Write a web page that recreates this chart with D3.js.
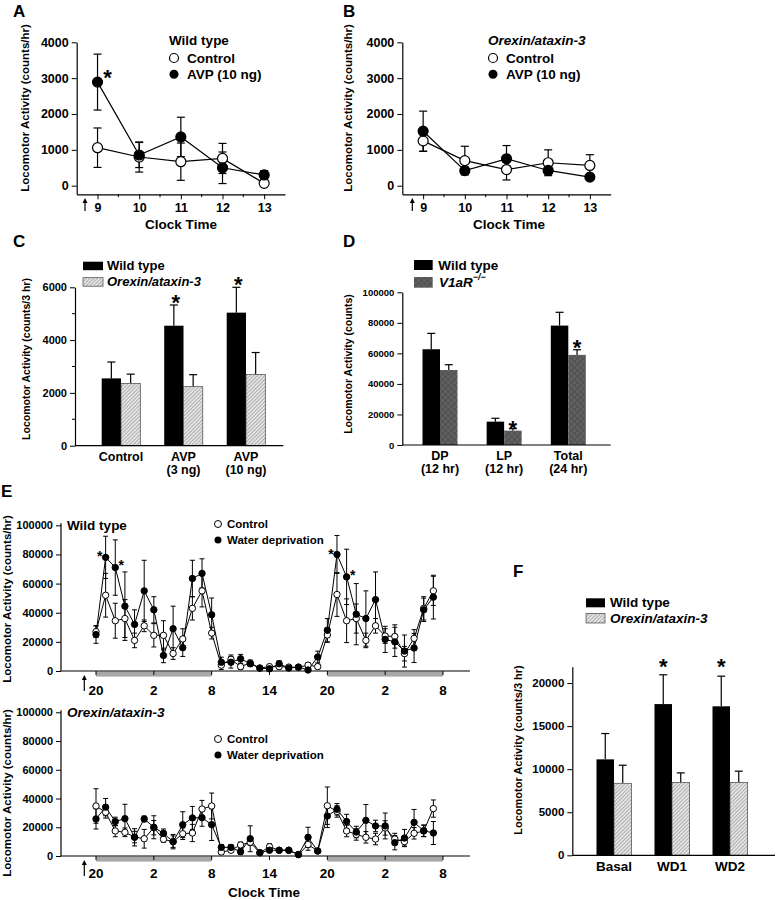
<!DOCTYPE html>
<html><head><meta charset="utf-8">
<script src="https://cdn.jsdelivr.net/npm/d3@7"></script>
<style>body{margin:0;background:#fff;}svg{display:block;}</style>
</head><body>
<svg id="fig" width="776" height="900"></svg>
<script>
// ---------------- DATA ----------------
const hoursA = [9, 10, 11, 12, 13];
const aControl = [1060, 800, 670, 760, 65];
const aControlErr = [550, 420, 520, 420, 60];
const aAVP = [2890, 856, 1360, 500, 300];
const aAVPErr = [780, 350, 550, 440, 120];
const bControl = [1250, 700, 450, 640, 565];
const bControlErr = [290, 400, 290, 360, 300];
const bAVP = [1520, 420, 750, 425, 240];
const bAVPErr = [560, 100, 370, 80, 60];
const abYTicks = [0, 1000, 2000, 3000, 4000];
const abXMinor = [9.5, 10.5, 11.5, 12.5];
const aStars = [{hour: 9, value: 3180}];

const cCategories = [["Control"], ["AVP", "(3 ng)"], ["AVP", "(10 ng)"]];
const cWT = [2550, 4545, 5040];
const cWTErr = [620, 785, 960];
const cOX = [2360, 2235, 2700];
const cOXErr = [350, 455, 830];
const cYTicks = [0, 2000, 4000, 6000];
const cYMinor = [1000, 3000, 5000];
const cStars = [{i: 1, value: 5640}, {i: 2, value: 6350}];

const dCategories = [["DP", "(12 hr)"], ["LP", "(12 hr)"], ["Total", "(24 hr)"]];
const dWT = [62700, 15300, 78200];
const dWTErr = [10400, 2200, 8700];
const dKO = [49100, 9400, 59000];
const dKOErr = [3500, 1300, 3400];
const dYTicks = [0, 20000, 40000, 60000, 80000, 100000];
const dStars = [{i: 1, value: 14900}, {i: 2, value: 67600}];

const eHours = [20,21,22,23,24,25,26,27,28,29,30,31,32,33,34,35,36,37,38,39,40,41,42,43,44,45,46,47,48,49,50,51,52,53,54,55];
const eTickHours = [20, 26, 32, 38, 44, 50, 56];
const eTickLabels = ["20", "2", "8", "14", "20", "2", "8"];
const eDarkPeriods = [[20, 32], [44, 56]];
const eYTicks = [0, 20000, 40000, 60000, 80000, 100000];
const eWTControl = [27000,52000,34500,36000,21000,31000,24500,24500,12000,22000,43000,55000,26000,
  4000,8000,3000,5500,2000,3000,3000,2700,2500,4000,3000,
  24700,52500,34500,36000,21000,31000,24000,23700,11900,22400,43000,55000];
const eWTControlErr = [4000,15000,12000,13000,5000,4000,8000,10000,4000,7000,8000,11000,4000,
  3000,3000,2000,2000,1000,1500,1500,1000,1000,1500,1500,
  5000,15000,15000,10000,5000,5000,5000,8000,5000,6000,8000,10000];
const eWTWater = [25000,78000,71000,44500,32000,55000,42000,10700,29000,16000,63500,67000,38600,
  6000,6000,8400,5000,2000,1500,5000,2000,2700,700,9600,
  28000,80000,64600,39000,36000,49000,21700,20000,13700,15800,42000,50700];
const eWTWaterErr = [6000,14500,19000,23500,10000,21000,9000,5000,15500,6000,12500,10000,11500,
  3500,4000,3000,2000,1000,1500,2000,1000,1000,1000,4000,
  8000,13000,19000,21000,19000,19000,9000,10000,11000,10000,8000,15000];
const eOXControl = [34800,30400,17400,16500,13200,12000,19700,11600,10000,15500,16000,32700,34800,
  2800,4000,7700,9500,2300,6500,4000,4000,1000,8000,3500,
  35000,31000,17400,15000,13000,11800,19500,11800,10000,15800,17400,33000];
const eOXControlErr = [12000,4000,4000,3000,4000,6500,5000,2000,4000,4000,6000,6000,9000,
  1500,1500,2000,2000,1000,2000,1000,1000,1000,4000,1000,
  13000,4000,4000,4000,4000,4000,5000,4000,3000,4000,4000,6000];
const eOXWater = [25800,34000,24000,26000,13000,25800,20000,15800,10000,21800,26500,26700,21800,
  6000,6000,3000,12000,2300,4000,4000,4000,1000,13000,3500,
  27800,32500,24000,16700,24800,20900,20900,9300,12500,23400,17600,16000];
const eOXWaterErr = [7000,6000,3000,10000,6000,2000,8000,3000,5000,9000,8000,6000,11000,
  2000,2000,2000,9000,1000,1500,1000,1000,1000,7000,1000,
  8000,4000,5000,4000,11000,4000,9000,5000,6000,9000,4000,8000];
const eStars = [{hour: 21, value: 81200, side: -1}, {hour: 22, value: 75000, side: 1},
                {hour: 45, value: 83000, side: -1}, {hour: 46, value: 68600, side: 1}];

const fCategories = ["Basal", "WD1", "WD2"];
const fWT = [11140, 17560, 17300];
const fWTErr = [3000, 3400, 3500];
const fOX = [8360, 8470, 8470];
const fOXErr = [2100, 1100, 1300];
const fYTicks = [0, 5000, 10000, 15000, 20000];
const fStars = [{i: 1, value: 22660}, {i: 2, value: 22660}];

// ---------------- HELPERS ----------------
const FONT = '"Liberation Sans", Arial, Helvetica, sans-serif';
const svg = d3.select("#fig");
svg.append("rect").attr("width", 776).attr("height", 900).attr("fill", "#fff");
const defs = svg.append("defs");
const hatch = defs.append("pattern").attr("id", "hatch").attr("patternUnits", "userSpaceOnUse")
  .attr("width", 2.6).attr("height", 2.6).attr("patternTransform", "rotate(45)");
hatch.append("rect").attr("width", 2.6).attr("height", 2.6).attr("fill", "#e6e6e6");
hatch.append("line").attr("x1", 0.5).attr("y1", 0).attr("x2", 0.5).attr("y2", 2.6)
  .attr("stroke", "#a8a8a8").attr("stroke-width", 0.9);
const mottle = defs.append("pattern").attr("id", "mottle").attr("patternUnits", "userSpaceOnUse")
  .attr("width", 6).attr("height", 6);
mottle.append("rect").attr("width", 6).attr("height", 6).attr("fill", "#595959");
[[0,0,"#5f5f5f"],[3,3,"#5f5f5f"],[3,0,"#545454"],[0,3,"#545454"]].forEach(([x,y,c]) =>
  mottle.append("rect").attr("x", x).attr("y", y).attr("width", 3).attr("height", 3).attr("fill", c));

function T(g, x, y, s, o = {}) {
  const t = g.append("text").attr("x", x).attr("y", y).text(s)
    .attr("font-family", FONT).attr("font-size", o.fs || 13)
    .attr("font-weight", o.fw || "bold").attr("text-anchor", o.anchor || "start").attr("fill", "#000");
  if (o.italic) t.attr("font-style", "italic");
  if (o.rotate) t.attr("transform", `rotate(-90,${x},${y})`);
  return t;
}
function star(g, cx, cy, fs) {
  T(g, cx, cy + 0.62 * fs, "*", {fs: fs, anchor: "middle"});
}
function styleAxis(a, fs) {
  a.attr("font-family", FONT);
  a.selectAll("text").attr("font-size", fs).attr("font-weight", "bold").attr("fill", "#000");
  a.selectAll("line").attr("stroke", "#000").attr("stroke-width", 1);
  a.select(".domain").attr("stroke", "#000").attr("stroke-width", 1.2);
}
function yAxis(g, scale, x, ticks, fs) {
  const a = g.append("g").attr("transform", `translate(${x},0)`)
    .call(d3.axisLeft(scale).tickValues(ticks).tickSize(5).tickSizeOuter(0).tickPadding(3).tickFormat(d3.format("d")));
  styleAxis(a, fs);
  return a;
}
function arrow(g, x, yTip, yTail) {
  g.append("line").attr("x1", x).attr("x2", x).attr("y1", yTip + 3).attr("y2", yTail)
    .attr("stroke", "#000").attr("stroke-width", 1.2);
  g.append("path").attr("d", `M${x},${yTip} L${x - 2.5},${yTip + 5} L${x + 2.5},${yTip + 5} Z`).attr("fill", "#000");
}
function timeSeries(g, x, y, hours, series, r, cap, sw) {
  series.forEach(s => {
    g.append("path").datum(hours.map((h, i) => [h, s.vals[i]]))
      .attr("d", d3.line().x(d => x(d[0])).y(d => y(d[1])))
      .attr("fill", "none").attr("stroke", "#000").attr("stroke-width", sw);
  });
  series.forEach(s => {
    const pts = hours.map((h, i) => ({h, v: s.vals[i], e: s.errs[i]}));
    const eg = g.append("g").selectAll("g").data(pts).join("g").attr("stroke", "#000").attr("stroke-width", sw);
    eg.append("line").attr("x1", d => x(d.h)).attr("x2", d => x(d.h))
      .attr("y1", d => y(Math.max(0, d.v - d.e))).attr("y2", d => y(d.v + d.e));
    eg.append("line").attr("x1", d => x(d.h) - cap / 2).attr("x2", d => x(d.h) + cap / 2)
      .attr("y1", d => y(d.v + d.e)).attr("y2", d => y(d.v + d.e));
    eg.append("line").attr("x1", d => x(d.h) - cap / 2).attr("x2", d => x(d.h) + cap / 2)
      .attr("y1", d => y(Math.max(0, d.v - d.e))).attr("y2", d => y(Math.max(0, d.v - d.e)));
  });
  series.forEach(s => {
    g.append("g").selectAll("circle").data(hours.map((h, i) => [h, s.vals[i]])).join("circle")
      .attr("cx", d => x(d[0])).attr("cy", d => y(d[1])).attr("r", r)
      .attr("fill", s.fill).attr("stroke", "#000").attr("stroke-width", sw);
  });
}
function barPairs(g, xc, y, bw, a, aErr, aFill, b, bErr, bFill, bStroke) {
  const rows = a.map((v, i) => ({i, a: v, ae: aErr[i], b: b[i], be: bErr[i]}));
  const eg = g.append("g").attr("stroke", "#000").attr("stroke-width", 1.2);
  rows.forEach(d => {
    [[xc(d.i) - bw / 2, d.a, d.ae], [xc(d.i) + bw / 2, d.b, d.be]].forEach(([cx, v, e]) => {
      eg.append("line").attr("x1", cx).attr("x2", cx).attr("y1", y(v)).attr("y2", y(v + e));
      eg.append("line").attr("x1", cx - 4).attr("x2", cx + 4).attr("y1", y(v + e)).attr("y2", y(v + e));
    });
  });
  g.append("g").selectAll("rect").data(rows).join("rect")
    .attr("x", d => xc(d.i) - bw).attr("width", bw)
    .attr("y", d => y(d.a)).attr("height", d => y(0) - y(d.a)).attr("fill", aFill);
  g.append("g").selectAll("rect").data(rows).join("rect")
    .attr("x", d => xc(d.i)).attr("width", bw)
    .attr("y", d => y(d.b)).attr("height", d => y(0) - y(d.b)).attr("fill", bFill)
    .attr("stroke", bStroke).attr("stroke-width", bStroke === "none" ? 0 : 0.7);
}
function legendBox(g, x, y, w, h, fill, stroke) {
  g.append("rect").attr("x", x).attr("y", y).attr("width", w).attr("height", h)
    .attr("fill", fill).attr("stroke", stroke || "none").attr("stroke-width", 0.7);
}

// ---------------- PANEL A & B ----------------
function panelAB(x0, x1, labelX, letter, letterX, legTitle, legItalic, legX, ctrl, ctrlErr, avp, avpErr, stars, arrowX, clockX) {
  const g = svg.append("g");
  const x = d3.scaleLinear().domain([8.5, 13.5]).range([x0, x1]);
  const y = d3.scaleLinear().domain([-240, 4000]).range([194.3, 42.3]);
  yAxis(g, y, x0, abYTicks, 12.5);
  const xa = g.append("g").attr("transform", `translate(0,${y(-240)})`)
    .call(d3.axisBottom(x).tickValues(hoursA).tickSize(5).tickSizeOuter(0).tickPadding(4).tickFormat(d3.format("d")));
  styleAxis(xa, 12.5);
  g.append("g").selectAll("line").data(abXMinor).join("line")
    .attr("x1", d => x(d)).attr("x2", d => x(d)).attr("y1", y(-240)).attr("y2", y(-240) + 3).attr("stroke", "#000");
  timeSeries(g, x, y, hoursA, [
    {vals: ctrl, errs: ctrlErr, fill: "#fff"},
    {vals: avp, errs: avpErr, fill: "#000"}], 5, 8, 1.2);
  stars.forEach(s => star(g, x(s.hour) + 10, y(s.value), 22));
  arrow(g, arrowX, 198, 211);
  T(g, clockX, 229, "Clock Time", {fs: 13.5, anchor: "middle"});
  T(g, labelX, 108, "Locomotor Activity (counts/hr)", {fs: 11.5, anchor: "middle", rotate: true});
  T(g, letterX, 17, letter, {fs: 17});
  T(g, legX, 45, legTitle, {fs: 13.5, italic: legItalic});
  g.append("circle").attr("cx", legX + 5).attr("cy", 58).attr("r", 4.5).attr("fill", "#fff").attr("stroke", "#000").attr("stroke-width", 1.2);
  g.append("circle").attr("cx", legX + 5).attr("cy", 74.3).attr("r", 4.5).attr("fill", "#000");
  T(g, legX + 18, 62.5, "Control", {fs: 13.5});
  T(g, legX + 18, 79, "AVP (10 ng)", {fs: 13.5});
}
panelAB(76.7, 285, 29, "A", 13, "Wild type", false, 169, aControl, aControlErr, aAVP, aAVPErr, aStars, 85, 181);
panelAB(402.3, 610.7, 352, "B", 343, "Orexin/ataxin-3", true, 488, bControl, bControlErr, bAVP, bAVPErr, [], 412.3, 509);

// ---------------- PANEL C ----------------
(function () {
  const g = svg.append("g");
  const y = d3.scaleLinear().domain([0, 6000]).range([445.7, 287.3]);
  const xc = d3.scaleLinear().domain([0, 2]).range([121, 246]);
  const bw = 19.3;
  barPairs(g, xc, y, bw, cWT, cWTErr, "#000", cOX, cOXErr, "url(#hatch)", "#444");
  yAxis(g, y, 75, cYTicks, 11);
  g.append("g").selectAll("line").data(cYMinor).join("line")
    .attr("x1", 75 - 3).attr("x2", 75).attr("y1", d => y(d)).attr("y2", d => y(d)).attr("stroke", "#000");
  g.append("line").attr("x1", 75).attr("x2", 283.3).attr("y1", y(0)).attr("y2", y(0)).attr("stroke", "#000").attr("stroke-width", 1.2);
  cCategories.forEach((c, i) => c.forEach((s, k) => T(g, xc(i), 460.5 + k * 13.5, s, {fs: 12.5, anchor: "middle"})));
  cStars.forEach(s => star(g, xc(s.i) - bw / 2 + 2, y(s.value), 22));
  T(g, 30, 359, "Locomotor Activity (counts/3 hr)", {fs: 10.5, anchor: "middle", rotate: true});
  T(g, 13, 247, "C", {fs: 17});
  legendBox(g, 83, 261.7, 20, 8.5, "#000");
  legendBox(g, 83, 277.7, 20, 8.5, "url(#hatch)", "#444");
  T(g, 107, 269.5, "Wild type", {fs: 13});
  T(g, 107, 285.5, "Orexin/ataxin-3", {fs: 13, italic: true});
})();

// ---------------- PANEL D ----------------
(function () {
  const g = svg.append("g");
  const y = d3.scaleLinear().domain([0, 100000]).range([445, 292.3]);
  const xc = d3.scaleLinear().domain([0, 2]).range([440, 568.3]);
  const bw = 17.5;
  barPairs(g, xc, y, bw, dWT, dWTErr, "#000", dKO, dKOErr, "url(#mottle)", "none");
  yAxis(g, y, 402.3, dYTicks, 9.5);
  g.append("line").attr("x1", 402.3).attr("x2", 610.7).attr("y1", y(0)).attr("y2", y(0)).attr("stroke", "#000").attr("stroke-width", 1.2);
  dCategories.forEach((c, i) => c.forEach((s, k) => T(g, xc(i), 459.5 + k * 13.5, s, {fs: 12.5, anchor: "middle"})));
  dStars.forEach(s => star(g, xc(s.i) + bw / 2, y(s.value), 22));
  T(g, 352, 364, "Locomotor Activity (counts)", {fs: 10.5, anchor: "middle", rotate: true});
  T(g, 343, 247, "D", {fs: 17});
  legendBox(g, 414, 260, 18.7, 10, "#000");
  legendBox(g, 414, 277, 18.7, 10.7, "url(#mottle)");
  T(g, 438.3, 270, "Wild type", {fs: 13.5});
  const t = T(g, 439, 287, "V1aR", {fs: 13.5, italic: true});
  t.append("tspan").attr("dy", -7).attr("font-size", 9).text("−/−");
})();

// ---------------- PANEL E ----------------
function panelE(y0, yTop, title, titleItalic, ctrl, ctrlErr, wd, wdErr, stars, tickBase, legY, labelY) {
  const g = svg.append("g");
  const x = d3.scaleLinear().domain([20, 56]).range([96, 443]);
  const y = d3.scaleLinear().domain([0, 100000]).range([y0, yTop]);
  g.append("g").selectAll("rect").data(eDarkPeriods).join("rect")
    .attr("x", d => x(d[0])).attr("width", d => x(d[1]) - x(d[0]))
    .attr("y", y0 + 0.6).attr("height", 5).attr("fill", "#a8a8a8");
  const ya = yAxis(g, y, 61, eYTicks, 11);
  ya.select(".domain").attr("d", `M0,${y0}V${yTop - 2}`);
  g.append("line").attr("x1", 61).attr("x2", 470).attr("y1", y0).attr("y2", y0).attr("stroke", "#000").attr("stroke-width", 1.2);
  g.append("g").selectAll("line").data(eTickHours).join("line")
    .attr("x1", d => x(d)).attr("x2", d => x(d)).attr("y1", y0).attr("y2", y0 + 4).attr("stroke", "#000");
  eTickHours.forEach((h, i) => T(g, x(h), tickBase, eTickLabels[i], {fs: 13.5, anchor: "middle"}));
  arrow(g, 84.3, y0 + 4, y0 + 20);
  timeSeries(g, x, y, eHours, [
    {vals: ctrl, errs: ctrlErr, fill: "#fff"},
    {vals: wd, errs: wdErr, fill: "#000"}], 3.2, 5, 1);
  stars.forEach(s => star(g, x(s.hour) + s.side * 6, y(s.value), 14));
  T(g, 67, yTop + 4.5, title, {fs: 13.5, italic: titleItalic});
  g.append("circle").attr("cx", 218).attr("cy", legY).attr("r", 3.5).attr("fill", "#fff").attr("stroke", "#000");
  g.append("circle").attr("cx", 218).attr("cy", legY + 16).attr("r", 3.5).attr("fill", "#000");
  T(g, 227, legY + 4, "Control", {fs: 11.5});
  T(g, 227, legY + 20, "Water deprivation", {fs: 11.5});
  T(g, 10.5, labelY, "Locomotor Activity (counts/hr)", {fs: 11.5, anchor: "middle", rotate: true});
}
panelE(671, 525.3, "Wild type", false, eWTControl, eWTControlErr, eWTWater, eWTWaterErr, eStars, 695, 524, 599);
panelE(856, 712.3, "Orexin/ataxin-3", true, eOXControl, eOXControlErr, eOXWater, eOXWaterErr, [], 878, 739, 793);
T(svg, 1, 497, "E", {fs: 17});
T(svg, 264, 897, "Clock Time", {fs: 13.5, anchor: "middle"});

// ---------------- PANEL F ----------------
(function () {
  const g = svg.append("g");
  const y = d3.scaleLinear().domain([0, 21900]).range([855.3, 666.7]);
  const xc = d3.scaleLinear().domain([0, 2]).range([614, 730]);
  const bw = 17.5;
  barPairs(g, xc, y, bw, fWT, fWTErr, "#000", fOX, fOXErr, "url(#hatch)", "#444");
  yAxis(g, y, 572.3, fYTicks, 11.5);
  g.append("line").attr("x1", 572.3).attr("x2", 775).attr("y1", y(0)).attr("y2", y(0)).attr("stroke", "#000").attr("stroke-width", 1.2);
  fCategories.forEach((c, i) => T(g, xc(i), 871, c, {fs: 13.5, anchor: "middle"}));
  fStars.forEach(s => star(g, xc(s.i) - bw / 2, y(s.value), 22));
  T(g, 522, 750, "Locomotor Activity (counts/3 hr)", {fs: 11, anchor: "middle", rotate: true});
  T(g, 513, 577, "F", {fs: 17});
  legendBox(g, 586, 598.3, 19, 9, "#000");
  legendBox(g, 586, 613.5, 19, 9.5, "url(#hatch)", "#444");
  T(g, 610, 607.3, "Wild type", {fs: 13.5});
  T(g, 610, 622.5, "Orexin/ataxin-3", {fs: 13.5, italic: true});
})();
</script>
</body></html>
